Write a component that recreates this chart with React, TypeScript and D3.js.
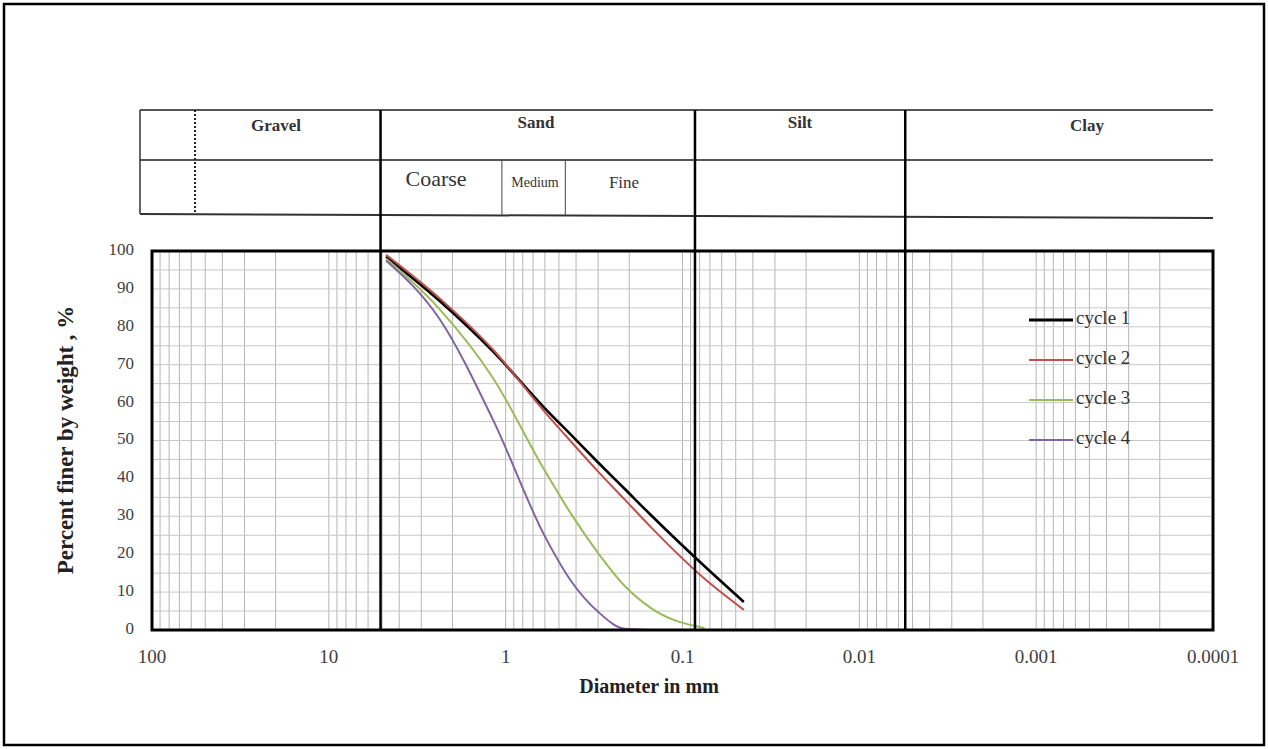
import React, { useEffect, useRef } from 'react';
import * as d3 from 'd3';

// sieve sizes (mm) and percent passing
const sieveSizes = [4.75, 2.36, 1.18, 0.6, 0.425, 0.3, 0.212, 0.15, 0.075, 0.045];
const cycle1 = [98.5, 86.8, 73.5, 58.5, 51.4, 44.2, 37.2, 30.2, 16.8, 7.4];
const cycle2 = [99, 87.5, 74, 57.5, 49.6, 41.8, 34.4, 27, 13.5, 5.3];
const cycle3 = [98, 84.6, 66.5, 42, 30.5, 20.3, 11.6, 5.7, 0.5];
const cycle4 = [97.5, 82, 55.5, 24.7, 12.8, 4.8, 0.3, 0, 0];

const seriesNames = ['cycle 1', 'cycle 2', 'cycle 3', 'cycle 4'];
const seriesColors = ['#000000', '#c0504d', '#9bbb59', '#8064a2'];
const seriesValues = [cycle1, cycle2, cycle3, cycle4];

const xTicks = [100, 10, 1, 0.1, 0.01, 0.001, 0.0001];
const xTickLabels = ['100', '10', '1', '0.1', '0.01', '0.001', '0.0001'];
const yTicks = [0, 10, 20, 30, 40, 50, 60, 70, 80, 90, 100];

// soil class boundaries (mm) as drawn in the header table
const classBounds = [5.1, 0.085, 0.0055];
const sandSubBounds = [1.05, 0.46];

const FONT = '"Liberation Serif", "Times New Roman", serif';

const App: React.FC = () => {
  const ref = useRef<SVGSVGElement>(null);

  useEffect(() => {
    if (!ref.current) return;
    const svg = d3.select(ref.current);
    svg.selectAll('*').remove();

    const W = 1268, H = 749;
    const left = 152, right = 1213, top = 251, bottom = 630;
    const headTop = 110, headMid = 160, headBot = 214, headLeft = 140;

    const x = d3.scaleLog().domain([100, 0.0001]).range([left, right]);
    const y = d3.scaleLinear().domain([0, 100]).range([bottom, top]);

    // outer frame
    svg.append('rect')
      .attr('x', 4).attr('y', 4).attr('width', W - 8).attr('height', H - 8)
      .attr('fill', 'none').attr('stroke', '#000').attr('stroke-width', 2.5);

    // grid
    const g = svg.append('g');
    const minor: number[] = [];
    for (let e = -4; e < 2; e++) {
      for (let k = 1; k <= 9; k++) minor.push(k * Math.pow(10, e));
    }
    minor.push(100);
    g.selectAll('line.v')
      .data(minor)
      .enter().append('line')
      .attr('x1', d => x(d)).attr('x2', d => x(d))
      .attr('y1', top).attr('y2', bottom)
      .attr('stroke', '#b5b5b5').attr('stroke-width', 1);
    g.selectAll('line.h')
      .data(d3.range(0, 101, 5))
      .enter().append('line')
      .attr('x1', left).attr('x2', right)
      .attr('y1', d => y(d)).attr('y2', d => y(d))
      .attr('stroke', '#c8c8c8').attr('stroke-width', 1);

    // header table
    const hc = '#555';
    [headTop, headMid].forEach(yy => {
      svg.append('line').attr('x1', headLeft).attr('x2', right).attr('y1', yy).attr('y2', yy)
        .attr('stroke', hc).attr('stroke-width', 2);
    });
    svg.append('line').attr('x1', headLeft).attr('x2', right).attr('y1', headBot).attr('y2', headBot + 4)
      .attr('stroke', '#333').attr('stroke-width', 2);
    svg.append('line').attr('x1', headLeft).attr('x2', headLeft).attr('y1', headTop).attr('y2', headBot)
      .attr('stroke', '#333').attr('stroke-width', 1.5);
    svg.append('line').attr('x1', 195).attr('x2', 195).attr('y1', headTop).attr('y2', headBot)
      .attr('stroke', '#222').attr('stroke-width', 2).attr('stroke-dasharray', '2,2');
    sandSubBounds.forEach(d => {
      svg.append('line').attr('x1', x(d)).attr('x2', x(d)).attr('y1', headMid).attr('y2', headBot + 1)
        .attr('stroke', '#444').attr('stroke-width', 1);
    });

    const headText = (tx: number, ty: number, s: string, size: number, bold: boolean) =>
      svg.append('text').attr('x', tx).attr('y', ty)
        .attr('text-anchor', 'middle').attr('dominant-baseline', 'middle')
        .attr('font-family', FONT).attr('font-size', size)
        .attr('font-weight', bold ? 'bold' : 'normal').attr('fill', '#333').text(s);
    headText(276, 127, 'Gravel', 17, true);
    headText(536, 124, 'Sand', 17, true);
    headText(800, 124, 'Silt', 17, true);
    headText(1087, 127, 'Clay', 17, true);
    headText(436, 181, 'Coarse', 22, false);
    headText(535, 184, 'Medium', 14, false);
    headText(624, 184, 'Fine', 17, false);

    // curves
    const line = d3.line<[number, number]>()
      .x(d => x(d[0])).y(d => y(d[1]))
      .curve(d3.curveMonotoneX);
    seriesValues.forEach((vals, i) => {
      const pts = vals.map((v, j) => [sieveSizes[j], v] as [number, number]);
      svg.append('path')
        .attr('d', line(pts))
        .attr('fill', 'none')
        .attr('stroke', seriesColors[i])
        .attr('stroke-width', i === 0 ? 2.6 : 2);
    });

    // plot frame
    svg.append('rect')
      .attr('x', left).attr('y', top).attr('width', right - left).attr('height', bottom - top)
      .attr('fill', 'none').attr('stroke', '#000').attr('stroke-width', 3);

    // class boundary lines through header and plot
    classBounds.forEach(d => {
      svg.append('line').attr('x1', x(d)).attr('x2', x(d)).attr('y1', headTop).attr('y2', bottom)
        .attr('stroke', '#000').attr('stroke-width', 2.5);
    });

    // tick labels
    svg.selectAll('text.yt')
      .data(yTicks)
      .enter().append('text')
      .attr('x', 134).attr('y', d => y(d))
      .attr('text-anchor', 'end').attr('dominant-baseline', 'middle')
      .attr('font-family', FONT).attr('font-size', 17).attr('fill', '#404040')
      .text(d => String(d));
    svg.selectAll('text.xt')
      .data(xTicks)
      .enter().append('text')
      .attr('x', d => x(d)).attr('y', 659)
      .attr('text-anchor', 'middle').attr('dominant-baseline', 'middle')
      .attr('font-family', FONT).attr('font-size', 19).attr('fill', '#404040')
      .text((d, i) => xTickLabels[i]);

    // axis titles
    svg.append('text')
      .attr('x', 649).attr('y', 688)
      .attr('text-anchor', 'middle').attr('dominant-baseline', 'middle')
      .attr('font-family', FONT).attr('font-size', 20).attr('font-weight', 'bold').attr('fill', '#222')
      .text('Diameter in mm');
    svg.append('text')
      .attr('transform', 'translate(68,440) rotate(-90)')
      .attr('text-anchor', 'middle').attr('dominant-baseline', 'middle')
      .attr('font-family', FONT).attr('font-size', 23).attr('font-weight', 'bold').attr('fill', '#222')
      .text('Percent finer by weight , %');

    // legend
    seriesNames.forEach((name, i) => {
      const ly = 320 + i * 40;
      svg.append('line').attr('x1', 1029).attr('x2', 1073).attr('y1', ly).attr('y2', ly)
        .attr('stroke', seriesColors[i]).attr('stroke-width', i === 0 ? 2.8 : 2);
      svg.append('text').attr('x', 1076).attr('y', ly)
        .attr('dominant-baseline', 'middle')
        .attr('font-family', FONT).attr('font-size', 19).attr('fill', '#333')
        .text(name);
    });
  }, []);

  return (
    <div style={{ position: 'absolute', left: 0, top: 0 }}>
      <svg ref={ref} width={1268} height={749} style={{ display: 'block', background: '#fff' }} />
    </div>
  );
};

export default App;
